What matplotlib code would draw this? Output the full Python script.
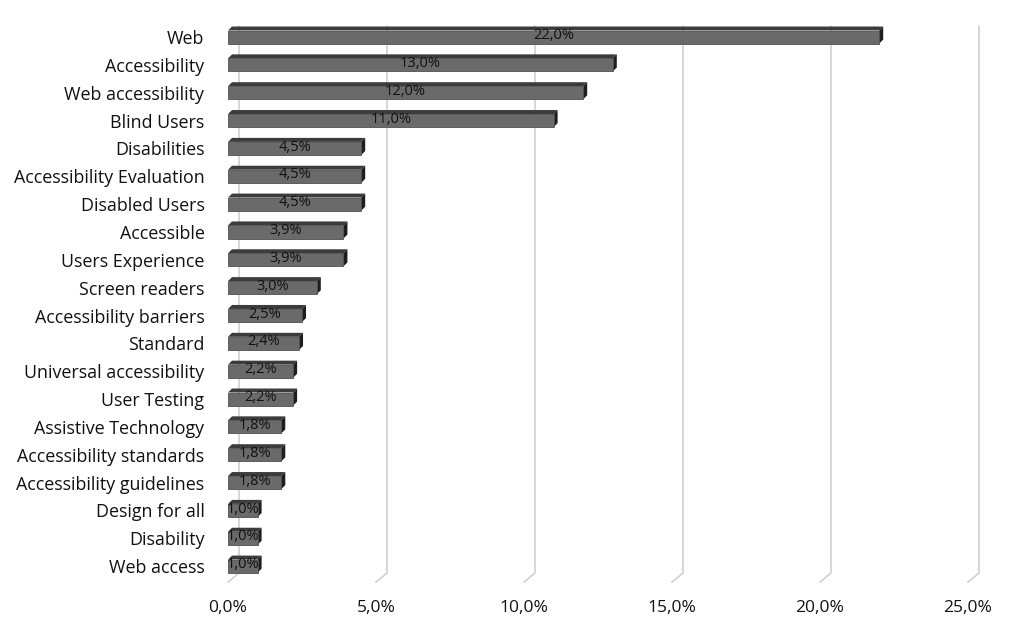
import matplotlib.pyplot as plt
from matplotlib.patches import Polygon, Rectangle

# keywords and their share (%), top to bottom
keywords = ["Web", "Accessibility", "Web accessibility", "Blind Users", "Disabilities",
            "Accessibility Evaluation", "Disabled Users", "Accessible", "Users Experience",
            "Screen readers", "Accessibility barriers", "Standard", "Universal accessibility",
            "User Testing", "Assistive Technology", "Accessibility standards",
            "Accessibility guidelines", "Design for all", "Disability", "Web access"]
shares = [22.0, 13.0, 12.0, 11.0, 4.5, 4.5, 4.5, 3.9, 3.9, 3.0,
          2.5, 2.4, 2.2, 2.2, 1.8, 1.8, 1.8, 1.0, 1.0, 1.0]
xticks = [0, 5, 10, 15, 20, 25]

plt.rcParams['font.family'] = ['Open Sans', 'DejaVu Sans']

W, H = 1026, 627
fig = plt.figure(figsize=(W / 100, H / 100), dpi=100)
ax = fig.add_axes([228 / W, (H - 582) / H, (968 - 228) / W, (582 - 17) / H])
ax.set_xlim(0, 25)
ax.set_ylim(19.57, -0.72)

# pixel -> data conversion for the fake 3D depth
px_x = 25 / ax.bbox.width
px_y = (19.57 + 0.72) / ax.bbox.height

def fmt(v):
    return f"{v:.1f}".replace(".", ",") + "%"

# back wall gridlines with floor diagonal
gdx, gdy = 11 * px_x, 9 * px_y
for t in xticks:
    ax.plot([t, t + gdx, t + gdx], [19.57, 19.57 - gdy, -0.38], color="#d0d0d0",
            lw=1.2, clip_on=False, zorder=1)

bh = 0.47
ddx, ddy = 4 * px_x, 4 * px_y
for i, v in enumerate(shares):
    y0, y1 = i - bh / 2, i + bh / 2
    # top face
    ax.add_patch(Polygon([(0, y0), (v, y0), (v + ddx, y0 - ddy), (ddx, y0 - ddy)],
                         closed=True, fc="#3c3c3c", ec="none", zorder=2))
    # side face
    ax.add_patch(Polygon([(v, y0), (v + ddx, y0 - ddy), (v + ddx, y1 - ddy), (v, y1)],
                         closed=True, fc="#1e1e1e", ec="none", zorder=2))
    ax.add_patch(Rectangle((0, y0), v, bh, fc="#6a6a6a", ec="#505050", lw=0.6, zorder=3))
    ax.text(v / 2, i - 0.05, fmt(v), ha="center", va="center", fontsize=10.5,
            color="#111111", zorder=4)

ax.set_yticks(range(len(keywords)))
ax.set_yticklabels(keywords, fontsize=12.9, color="#111111")
ax.set_xticks(xticks)
ax.set_xticklabels([fmt(t) for t in xticks], fontsize=12.5, color="#111111")
ax.tick_params(axis="y", length=0, pad=17)
ax.tick_params(axis="x", length=0, pad=13)
for s in ax.spines.values():
    s.set_visible(False)

fig.savefig("out.png", dpi=100)
